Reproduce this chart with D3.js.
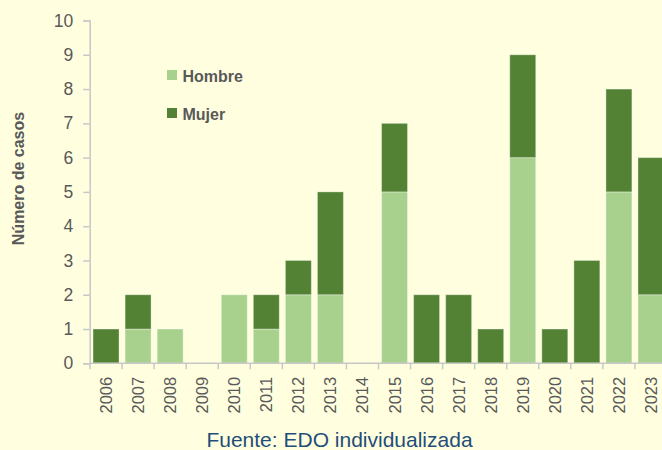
<!DOCTYPE html>
<html><head><meta charset="utf-8">
<script src="https://cdn.jsdelivr.net/npm/d3@7"></script>
<style>
html,body{margin:0;padding:0;background:#FFFFE0;}
svg{display:block;}
</style></head>
<body>
<svg id="chart" width="662" height="450"></svg>
<script>
const years = ["2006","2007","2008","2009","2010","2011","2012","2013","2014","2015","2016","2017","2018","2019","2020","2021","2022","2023"];
const hombre = [0,1,1,0,2,1,2,2,0,5,0,0,0,6,0,0,5,2];
const mujer  = [1,1,0,0,0,1,1,3,0,2,2,2,1,3,1,3,3,4];
const seriesNames = ["Hombre","Mujer"];
const seriesColors = ["#A9D18E","#548235"];
const yTicks = [0,1,2,3,4,5,6,7,8,9,10];
const yTitle = "Número de casos";
const source = "Fuente: EDO individualizada";

const svg = d3.select("#chart");
svg.append("rect").attr("width",662).attr("height",450).attr("fill","#FFFFE0");

const x = d3.scaleBand().domain(years).range([90, 667]).paddingInner(0.19).paddingOuter(0.095);
const y = d3.scaleLinear().domain([0,10]).range([363.3, 20.5]);

const rows = years.map((yr,i)=>({year:yr, Hombre:hombre[i], Mujer:mujer[i]}));
const stack = d3.stack().keys(seriesNames)(rows);

const axisColor = "#C8C8C8";
const textColor = "#595959";
const font = "'Liberation Sans', Arial, sans-serif";

// bars
svg.append("g").selectAll("g").data(stack).join("g")
  .attr("fill",(d,i)=>seriesColors[i])
  .selectAll("rect").data(d=>d.filter(v=>v[1]-v[0]>0)).join("rect")
  .attr("x",d=>x(d.data.year))
  .attr("width",x.bandwidth())
  .attr("y",d=>y(d[1]))
  .attr("height",d=>y(d[0])-y(d[1]))
  .attr("stroke","rgba(255,255,255,0.35)")
  .attr("stroke-width",1);

// y axis
const yAxis = svg.append("g").attr("transform","translate(89.7,0)")
  .call(d3.axisLeft(y).tickValues(yTicks).tickSize(6.5).tickPadding(10).tickFormat(d3.format("d")));
yAxis.select(".domain").attr("stroke",axisColor).attr("stroke-width",1.5);
yAxis.selectAll(".tick line").attr("stroke",axisColor).attr("stroke-width",1.5);
yAxis.selectAll(".tick text").attr("fill",textColor)
  .style("font-family",font).style("font-size","17.5px");

// x axis
const xAxis = svg.append("g").attr("transform","translate(0,363.3)");
xAxis.append("line").attr("x1",89.7).attr("x2",662).attr("y1",0).attr("y2",0)
  .attr("stroke",axisColor).attr("stroke-width",1.5);
const step = x.step();
const boundaries = years.map((yr)=>x(yr) - (step - x.bandwidth())/2).concat([x(years[years.length-1]) + x.bandwidth() + (step - x.bandwidth())/2]);
xAxis.selectAll("line.tk").data(boundaries).join("line").attr("class","tk")
  .attr("x1",d=>d).attr("x2",d=>d).attr("y1",0).attr("y2",6)
  .attr("stroke",axisColor).attr("stroke-width",1.5);
xAxis.selectAll("text").data(years).join("text")
  .attr("transform",d=>`translate(${x(d)+x.bandwidth()/2+6},13.5) rotate(-90)`)
  .attr("text-anchor","end")
  .attr("fill",textColor)
  .style("font-family",font).style("font-size","16.5px")
  .text(d=>d);

// y title
svg.append("text").attr("transform","translate(23.5,178.5) rotate(-90)")
  .attr("text-anchor","middle").attr("fill",textColor)
  .style("font-family",font).style("font-size","16px").style("font-weight","bold")
  .text(yTitle);

// legend
const legend = svg.append("g");
const legY = [70, 108];
seriesNames.forEach((s,i)=>{
  legend.append("rect").attr("x",167).attr("y",legY[i]).attr("width",10).attr("height",10).attr("fill",seriesColors[i]);
  legend.append("text").attr("x",182.5).attr("y",legY[i]+11.5).attr("fill",textColor)
    .style("font-family",font).style("font-size","16px").style("font-weight","bold")
    .text(s);
});

// source
svg.append("text").attr("x",339.5).attr("y",446.5).attr("text-anchor","middle").attr("fill","#1F4E79")
  .style("font-family",font).style("font-size","21px")
  .text(source);
</script>
</body></html>
